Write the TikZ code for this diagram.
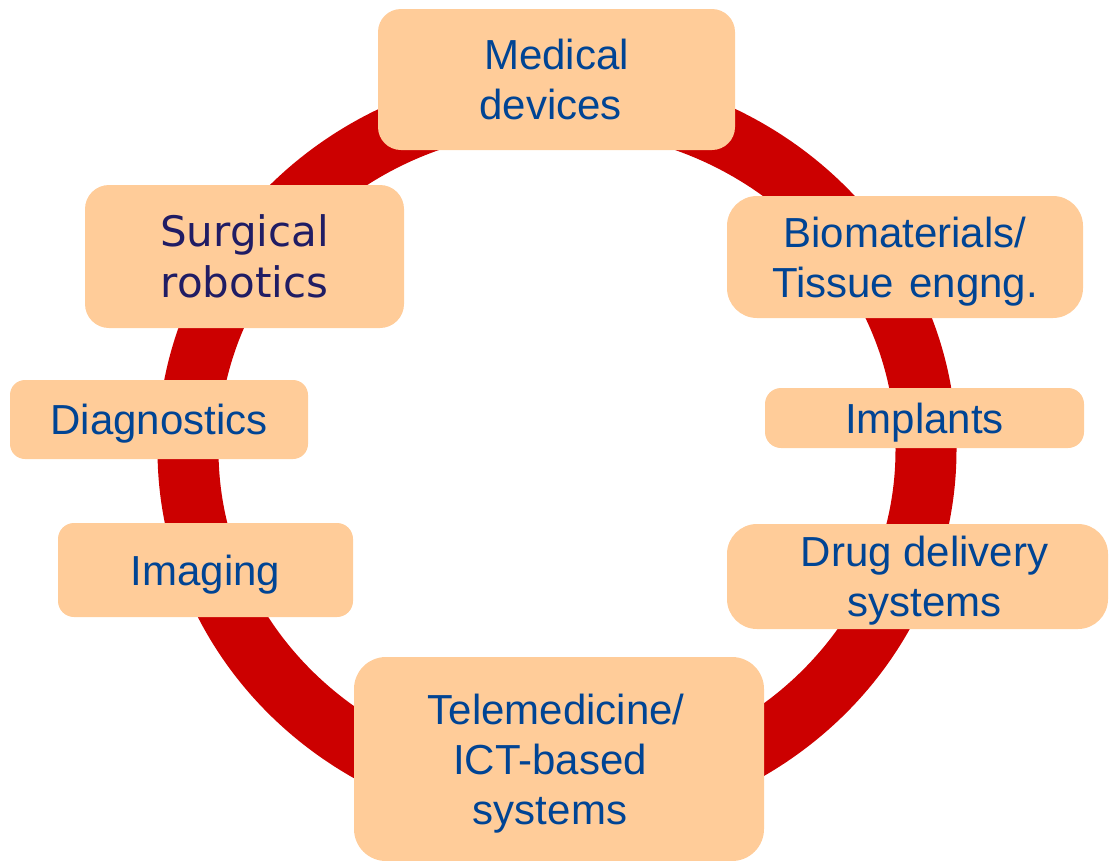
\documentclass[tikz,border=0pt]{standalone}
\usepackage{fontspec}
\setmainfont{Liberation Sans}
\newfontfamily\surgfont{DejaVu Sans}
\definecolor{ringred}{RGB}{204,0,0}
\definecolor{peach}{RGB}{255,204,153}
\definecolor{txtblue}{RGB}{0,68,148}
\definecolor{navytxt}{RGB}{32,28,100}
\newcommand\myTop{\rule{0pt}{39pt}}
\newcommand\myBot{\rule[-9pt]{0pt}{9pt}}
\newcommand\myPad[1]{\rule{#1}{0pt}}
\begin{document}
\begin{tikzpicture}[x=1pt,y=-1pt,
  box/.style={fill=peach, draw=none, inner sep=0pt, align=center,
    text=txtblue, font=\fontsize{42}{50}\selectfont},
  ring/.style={draw=ringred, line width=61pt}]
\useasboundingbox (0,0) rectangle (1111,860);
\draw[ring] (557,450) ellipse [x radius=369, y radius=350.5];
\node[box, rounded corners=23pt, minimum width=357pt, minimum height=141pt] (med) at (556.5,79.5)
  {\myTop Medical\\devices\myPad{12pt}\myBot};
\node[box, rounded corners=30pt, minimum width=356pt, minimum height=122pt] (bio) at (905,257)
  {\myTop Biomaterials/\\Tissue\hspace{0.36em}engng.\myBot};
\node[box, rounded corners=16pt, minimum width=319pt, minimum height=60pt] (impl) at (924.5,418)
  {\myTop Implants\myBot};
\node[box, rounded corners=30pt, minimum width=381pt, minimum height=105pt] (drug) at (917.5,576.5)
  {\myTop\myPad{14pt}Drug delivery\\\myPad{14pt}systems\myBot};
\node[box, rounded corners=32pt, minimum width=410pt, minimum height=204pt] (tele) at (559,759)
  {\myTop Telemedicine/\myPad{6pt}\\ICT-based\myPad{18pt}\\systems\myPad{18pt}\myBot};
\node[box, rounded corners=16pt, minimum width=295pt, minimum height=94pt] (img) at (205.5,570)
  {\myTop Imaging\myBot};
\node[box, rounded corners=15pt, minimum width=298pt, minimum height=79pt] (diag) at (159,419.5)
  {\myTop Diagnostics\myBot};
\node[box, rounded corners=24pt, minimum width=319pt, minimum height=143pt, text=navytxt,
  font=\surgfont\fontsize{42}{51}\selectfont] (surg) at (244.5,256.5)
  {\myTop Surgical\\robotics\myBot};
\end{tikzpicture}
\end{document}
